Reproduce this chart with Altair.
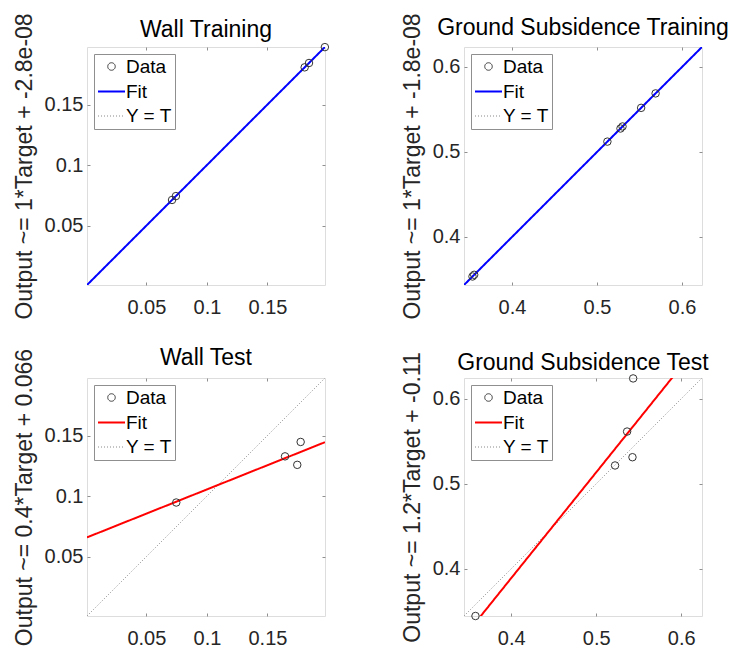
import altair as alt
import pandas as pd

FONT = "Liberation Sans"

panel_titles = ["Wall Training", "Ground Subsidence Training", "Wall Test", "Ground Subsidence Test"]
y_titles = [
    "Output ~= 1*Target + -2.8e-08",
    "Output ~= 1*Target + -1.8e-08",
    "Output ~= 0.4*Target + 0.066",
    "Output ~= 1.2*Target + -0.11",
]
fit_colors = ["#0000ff", "#0000ff", "#ff0000", "#ff0000"]
series_names = ["Data", "Fit", "Y = T"]

wall_train_target = [0.0712, 0.0744, 0.1807, 0.1843, 0.1974]
wall_train_output = [0.0712, 0.0744, 0.1807, 0.1843, 0.1974]

gs_train_target = [0.3535, 0.3555, 0.5122, 0.5276, 0.5300, 0.5519, 0.5689]
gs_train_output = [0.3535, 0.3555, 0.5122, 0.5276, 0.5300, 0.5519, 0.5689]

wall_test_target = [0.0747, 0.1645, 0.1746, 0.1774]
wall_test_output = [0.0947, 0.1328, 0.1258, 0.1447]

gs_test_target = [0.3580, 0.5222, 0.5364, 0.5427, 0.5435]
gs_test_output = [0.3445, 0.5216, 0.5615, 0.5313, 0.6240]

axis_domains = [[0.001, 0.1975], [0.3435, 0.6235], [0.001, 0.1975], [0.3445, 0.6245]]
tick_values = [[0.05, 0.1, 0.15], [0.4, 0.5, 0.6], [0.05, 0.1, 0.15], [0.4, 0.5, 0.6]]
fit_slopes = [1.0, 1.0, 0.4, 1.245]
fit_intercepts = [-2.8e-08, -1.8e-08, 0.0655, -0.109]
title_offsets = [-29, -27, -22, -23]

targets = [wall_train_target, gs_train_target, wall_test_target, gs_test_target]
outputs = [wall_train_output, gs_train_output, wall_test_output, gs_test_output]

GRAY = "#8f8f8f"
W = 238


def panel(i):
    lo, hi = axis_domains[i]
    a, b = fit_slopes[i], fit_intercepts[i]
    pts = pd.DataFrame({"T": targets[i], "Y": outputs[i], "series": "Data"})
    fit = pd.DataFrame({"T": [lo, hi], "Y": [a * lo + b, a * hi + b], "series": "Fit"})
    ident = pd.DataFrame({"T": [lo, hi], "Y": [lo, hi], "series": "Y = T"})

    sc = alt.Scale(domain=[lo, hi], nice=False, zero=False)
    leg = alt.Legend(
        orient="top-left", offset=7, title=None, strokeColor=GRAY, fillColor="white",
        padding=3, labelFontSize=19, labelFont=FONT, labelColor="black",
        symbolOpacity=1, rowPadding=0, labelOffset=0,
    )
    color = alt.Color("series:N", scale=alt.Scale(domain=series_names, range=["#333333", fit_colors[i], "#888888"]), legend=leg)
    dash = alt.StrokeDash("series:N", scale=alt.Scale(domain=series_names, range=[[1, 0], [1, 0], [1, 2]]), legend=leg)
    swidth = alt.StrokeWidth("series:N", scale=alt.Scale(type="ordinal", domain=series_names, range=[1, 2, 1]), legend=leg)
    shape = alt.Shape("series:N", scale=alt.Scale(domain=series_names, range=["circle", "stroke", "stroke"]), legend=leg)
    size = alt.Size("series:N", scale=alt.Scale(type="ordinal", domain=series_names, range=[56, 729, 729]), legend=leg)

    xb = alt.Axis(orient="bottom", values=tick_values[i], format="~g", title=None, offset=-3,
                  tickSize=3, tickColor=GRAY, domain=False, grid=False, labelFontSize=20,
                  labelColor="#262626", labelPadding=12, labelFont=FONT)
    yl = alt.Axis(orient="left", values=tick_values[i], format="~g", title=y_titles[i], offset=-3,
                  tickSize=3, tickColor=GRAY, domain=False, grid=False, labelFontSize=20,
                  labelColor="#262626", labelPadding=4, labelFont=FONT,
                  titleFontSize=23, titleFontWeight="normal", titleColor="#262626",
                  titleFont=FONT, titlePadding=8)
    xt = alt.Axis(orient="top", values=tick_values[i], labels=False, title=None, offset=-3,
                  tickSize=3, tickColor=GRAY, domain=False, grid=False)
    yr = alt.Axis(orient="right", values=tick_values[i], labels=False, title=None, offset=-3,
                  tickSize=3, tickColor=GRAY, domain=False, grid=False)

    l_ident = alt.Chart(ident).mark_line(clip=True).encode(
        x=alt.X("T:Q", scale=sc, axis=xt), y=alt.Y("Y:Q", scale=sc, axis=yr),
        color=color, strokeDash=dash, strokeWidth=swidth,
    )
    l_fit = alt.Chart(fit).mark_line(clip=True).encode(
        x=alt.X("T:Q", scale=sc, axis=xb), y=alt.Y("Y:Q", scale=sc, axis=yl),
        color=color, strokeDash=dash, strokeWidth=swidth,
    )
    l_pts = alt.Chart(pts).mark_point(filled=False, opacity=1).encode(
        x=alt.X("T:Q", scale=sc, axis=None), y=alt.Y("Y:Q", scale=sc, axis=None),
        color=color, shape=shape, size=size, strokeWidth=swidth,
    )
    return (
        alt.layer(l_ident, l_fit, l_pts)
        .resolve_scale(x="independent", y="independent")
        .resolve_axis(x="independent", y="independent")
        .properties(
            width=W, height=W,
            title=alt.Title(panel_titles[i], fontSize=23, fontWeight="normal", color="black",
                            font=FONT, anchor="middle", offset=title_offsets[i]),
        )
    )


chart = (
    alt.concat(*[panel(i) for i in range(4)], columns=2,
               spacing=alt.RowColnumber(row=93, column=139), bounds="flush")
    .resolve_scale(color="independent", shape="independent", size="independent",
                   strokeDash="independent", strokeWidth="independent")
    .properties(padding={"left": 12, "top": 12, "right": 0, "bottom": 0}, background="white")
    .configure_view(stroke=GRAY, strokeWidth=1)
    .configure(font=FONT)
)

chart.save("out.html", embed_options={"renderer": "svg", "actions": False})
